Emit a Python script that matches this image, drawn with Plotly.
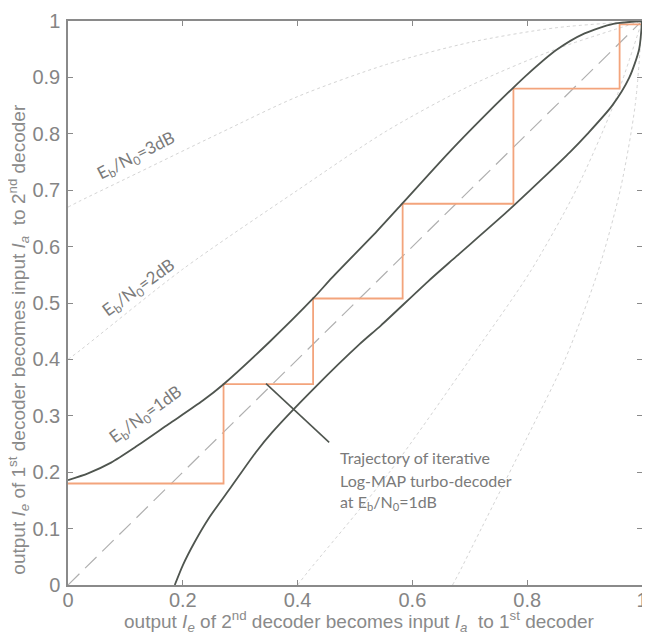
import plotly.graph_objects as go

# ---- data ----
upper_1dB_x = [0, 0.035, 0.075, 0.118, 0.175, 0.235, 0.271, 0.35, 0.427, 0.46, 0.538, 0.583, 0.661, 0.72, 0.776, 0.80, 0.85, 0.90, 0.95, 1.0]
upper_1dB_y = [0.186, 0.198, 0.217, 0.245, 0.285, 0.327, 0.356, 0.43, 0.508, 0.545, 0.627, 0.677, 0.764, 0.826, 0.882, 0.905, 0.948, 0.978, 0.995, 1.0]

lower_1dB_x = [0.186, 0.20, 0.22, 0.245, 0.285, 0.327, 0.356, 0.43, 0.508, 0.545, 0.627, 0.677, 0.764, 0.826, 0.875, 0.905, 0.948, 0.978, 0.995, 1.0]
lower_1dB_y = [0, 0.035, 0.075, 0.118, 0.175, 0.235, 0.271, 0.35, 0.427, 0.46, 0.538, 0.583, 0.661, 0.72, 0.768, 0.80, 0.85, 0.90, 0.95, 1.0]

upper_2dB_x = [0, 0.021, 0.2, 0.4, 0.555, 0.7, 0.85, 1.0]
upper_2dB_y = [0.40, 0.416, 0.56, 0.70, 0.805, 0.885, 0.95, 1.0]
lower_2dB_x = [0.40, 0.416, 0.56, 0.70, 0.805, 0.885, 0.95, 1.0]
lower_2dB_y = [0, 0.021, 0.2, 0.4, 0.555, 0.7, 0.85, 1.0]

upper_3dB_x = [0, 0.021, 0.1, 0.262, 0.4, 0.555, 0.7, 0.85, 1.0]
upper_3dB_y = [0.67, 0.681, 0.72, 0.80, 0.866, 0.923, 0.962, 0.988, 1.0]
lower_3dB_x = [0.67, 0.681, 0.72, 0.80, 0.866, 0.923, 0.962, 0.988, 1.0]
lower_3dB_y = [0, 0.021, 0.1, 0.262, 0.4, 0.555, 0.7, 0.85, 1.0]

traj_x = [0, 0.271, 0.271, 0.427, 0.427, 0.583, 0.583, 0.776, 0.776, 0.961, 0.961, 1.0]
traj_y = [0.18, 0.18, 0.356, 0.356, 0.508, 0.508, 0.676, 0.676, 0.88, 0.88, 0.994, 0.994]

diag = [0, 1]

x_ticks = [0, 0.2, 0.4, 0.6, 0.8, 1]
x_tick_text = ["0", "0.2", "0.4", "0.6", "0.8", "1"]
y_ticks = [0, 0.1, 0.2, 0.3, 0.4, 0.5, 0.6, 0.7, 0.8, 0.9, 1]
y_tick_text = ["0", "0.1", "0.2", "0.3", "0.4", "0.5", "0.6", "0.7", "0.8", "0.9", "1"]

pointer_x = [0.345, 0.455]
pointer_y = [0.357, 0.253]

DARK = "#4f554f"
FAINT = "#d4d4d4"
ORANGE = "#f3a47c"
GRAY_TXT = "#858585"

fig = go.Figure()

for xs, ys in [(upper_2dB_x, upper_2dB_y), (lower_2dB_x, lower_2dB_y),
               (upper_3dB_x, upper_3dB_y), (lower_3dB_x, lower_3dB_y)]:
    fig.add_trace(go.Scatter(x=xs, y=ys, mode="lines",
                             line=dict(color=FAINT, width=1, dash="dot", shape="spline", smoothing=0.8),
                             hoverinfo="skip", showlegend=False))

fig.add_trace(go.Scatter(x=diag, y=diag, mode="lines",
                         line=dict(color="#b0b0b0", width=1.2, dash="16px,8px"),
                         hoverinfo="skip", showlegend=False))

fig.add_trace(go.Scatter(x=traj_x, y=traj_y, mode="lines",
                         line=dict(color=ORANGE, width=1.8),
                         hoverinfo="skip", showlegend=False))

for xs, ys in [(upper_1dB_x, upper_1dB_y), (lower_1dB_x, lower_1dB_y)]:
    fig.add_trace(go.Scatter(x=xs, y=ys, mode="lines",
                             line=dict(color=DARK, width=1.8, shape="spline", smoothing=0.7),
                             hoverinfo="skip", showlegend=False))

fig.add_trace(go.Scatter(x=pointer_x, y=pointer_y, mode="lines",
                         line=dict(color=DARK, width=1.6),
                         hoverinfo="skip", showlegend=False))

ann_font = dict(family="Lato", size=16, color="#7a7a7a")
lbl_font = dict(family="Lato", size=17, color="#7a7a7a")
curve_labels = [
    (0.119, 0.761, -27, "E<sub>b</sub>/N<sub>0</sub>=3dB"),
    (0.124, 0.526, -36, "E<sub>b</sub>/N<sub>0</sub>=2dB"),
    (0.136, 0.301, -36, "E<sub>b</sub>/N<sub>0</sub>=1dB"),
]
annotations = []
for x, y, ang, t in curve_labels:
    annotations.append(dict(x=x, y=y, xref="x", yref="y", text=t, showarrow=False,
                            textangle=ang, font=lbl_font, xanchor="center", yanchor="middle"))

traj_lines = [
    (0.2265, "Trajectory of iterative"),
    (0.186, "Log-MAP turbo-decoder"),
    (0.147, "at E<sub>b</sub>/N<sub>0</sub>=1dB"),
]
for y, t in traj_lines:
    annotations.append(dict(x=0.471, y=y, xref="x", yref="y", text=t, showarrow=False,
                            font=ann_font, xanchor="left", yanchor="middle"))

title_font = dict(family="Liberation Sans", size=19, color="#8a8a8a")
annotations.append(dict(
    x=0.507, y=0, xref="paper", yref="paper", yshift=-36, xanchor="center", yanchor="middle",
    showarrow=False, font=title_font,
    text="output <i>I</i><sub><i>e</i></sub> of 2<sup>nd</sup> decoder becomes input <i>I</i><sub><i>a</i></sub>  to 1<sup>st</sup> decoder"))
annotations.append(dict(
    x=0, y=0.435, xref="paper", yref="paper", xshift=-49, xanchor="center", yanchor="middle",
    showarrow=False, font=title_font, textangle=-90,
    text="output <i>I</i><sub><i>e</i></sub> of 1<sup>st</sup> decoder becomes input <i>I</i><sub><i>a</i></sub>  to 2<sup>nd</sup> decoder"))

axis_common = dict(
    showgrid=False, zeroline=False, showline=True, linecolor="#8a8a8a", linewidth=1.5,
    mirror="ticks", ticks="inside", ticklen=5, tickcolor="#8a8a8a", tickwidth=1,
    tickfont=dict(family="Liberation Sans", size=20, color=GRAY_TXT),
    ticklabeloverflow="allow",
)

fig.update_layout(
    width=642, height=625,
    margin=dict(l=60, r=2, t=12, b=48),
    paper_bgcolor="white", plot_bgcolor="white",
    xaxis=dict(range=[0, 1], tickvals=x_ticks, ticktext=x_tick_text, ticklabelstandoff=-4, **axis_common),
    yaxis=dict(range=[0, 1], tickvals=y_ticks, ticktext=y_tick_text, ticklabelstandoff=2, **axis_common),
    annotations=annotations,
    showlegend=False,
)

fig.write_html("out.html")
